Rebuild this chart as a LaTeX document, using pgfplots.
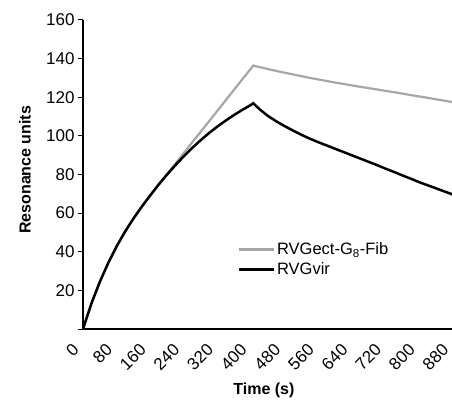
\documentclass[border=0pt]{standalone}
\usepackage{fontspec}
\setmainfont{Liberation Sans}
\usepackage{pgfplots}
\pgfplotsset{compat=1.18}
\definecolor{fibgray}{HTML}{A6A6A6}
\begin{document}
\begin{tikzpicture}
\begin{axis}[
  name=ax, at={(0,0)}, anchor=south west,
  scale only axis, width=370pt, height=309pt,
  xmin=0, xmax=880, ymin=0, ymax=160,
  clip=true,
  axis lines=left, axis line style={line width=1.3pt, -},
  xtick={0,80,...,880}, ytick={0,20,...,160},
  yticklabels={,20,40,60,80,100,120,140,160},
  xtick style={draw=none}, ytick style={line width=1pt, black},
  tick align=outside, major tick length=5pt,
  /pgf/number format/assume math mode=true,
  tick label style={font=\fontsize{17}{19}\selectfont},
  xticklabel style={rotate=45, anchor=east, xshift=-11pt, yshift=-4pt},
  xlabel={\bfseries Time (s)},
  ylabel={\bfseries Resonance units},
  label style={font=\fontsize{16}{18}\selectfont},
  xlabel style={at={(axis description cs:0.489,-0.197)}, anchor=center},
  ylabel style={at={(axis description cs:-0.157,0.515)}, anchor=center},
  legend style={at={(axis cs:360,36)}, anchor=west, draw=none, fill=none,
    font=\fontsize{16.5}{18}\selectfont, row sep=2.5pt},
  legend cell align=left,
  legend image code/.code={\draw[#1] (0pt,0pt) -- (35pt,0pt);},
]
\addplot[fibgray, line width=2.2pt] coordinates {
(0,0) (20,13.2) (40,24.4) (60,34.2) (80,42.8) (100,50.4) (120,57.2) (140,63.4)
(160,69.2) (180,74.8) (200,80.2) (220,85.7) (240,91.2) (260,96.7) (280,102.1)
(300,107.6) (320,113.1) (340,118.6) (360,124.1) (380,129.6) (400,135.0) (405,136.4)
(420,135.6) (440,134.6) (460,133.6) (480,132.7) (500,131.8) (520,130.9) (540,130.0)
(560,129.2) (580,128.4) (600,127.6) (620,126.9) (640,126.1) (660,125.4) (680,124.7)
(700,124.0) (720,123.3) (740,122.6) (760,121.9) (780,121.1) (800,120.4) (820,119.7)
(840,118.9) (860,118.2) (880,117.4)
};
\addlegendentry{RVGect-G\textsubscript{8}-Fib}
\addplot[black, line width=2.5pt] coordinates {
(0,0) (20,13.2) (40,24.4) (60,34.2) (80,42.8) (100,50.4) (120,57.2) (140,63.4)
(160,69.2) (180,74.8) (200,80.0) (220,84.9) (240,89.5) (260,93.8) (280,97.8)
(300,101.5) (320,104.9) (340,108.0) (360,110.9) (380,113.6) (400,116.1) (405,116.9)
(420,113.8) (440,110.3) (460,107.5) (480,105.0) (500,102.7) (520,100.5) (540,98.5)
(560,96.7) (580,95.0) (600,93.3) (620,91.6) (640,89.9) (660,88.2) (680,86.5)
(700,84.8) (720,83.0) (740,81.3) (760,79.5) (780,77.8) (800,76.0) (820,74.4)
(840,72.8) (860,71.2) (880,69.6)
};
\addlegendentry{RVGvir}
\end{axis}
\pgfresetboundingbox
\path[use as bounding box] (-83pt,-70pt) rectangle (369pt,329pt);
\end{tikzpicture}
\end{document}
